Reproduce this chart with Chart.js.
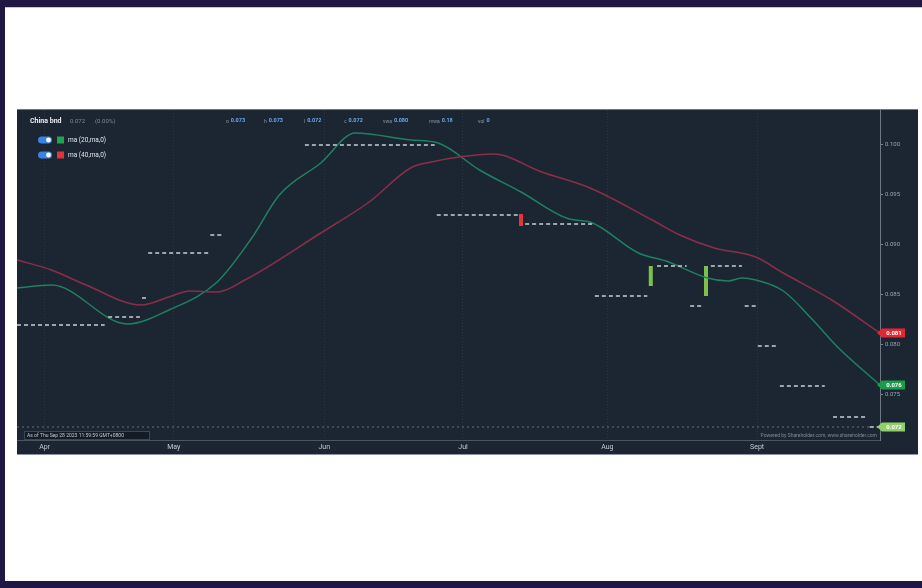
<!DOCTYPE html>
<html><head><meta charset="utf-8">
<script src="https://cdn.jsdelivr.net/npm/chart.js@4.4.0/dist/chart.umd.min.js"></script>
<style>
html,body{margin:0;padding:0;background:#fff;width:922px;height:588px;overflow:hidden;position:relative}
#top{position:absolute;left:0;top:0;width:922px;height:7px;background:#211743}
#topline{position:absolute;left:5px;top:7px;width:917px;height:1px;background:#c9c2dc}
#left{position:absolute;left:0;top:0;width:5px;height:588px;background:#211743}
#bottom{position:absolute;left:0;top:581px;width:922px;height:7px;background:#211743}
#panel{position:absolute;left:17px;top:110px;width:901px;height:345px;background:#1c2632}
#pt{position:absolute;left:17px;top:109px;width:901px;height:1px;background:#6f7985}
#pb{position:absolute;left:17px;top:454px;width:901px;height:1px;background:#8c96a1}
canvas{display:block}
</style></head>
<body>
<div id="top"></div><div id="topline"></div><div id="left"></div><div id="bottom"></div>
<div id="panel"><canvas id="c" width="901" height="345"></canvas></div>
<div id="pt"></div><div id="pb"></div>
<script>
// ---- data (x = trading-day index from start of window) ----
const monthLabels = ['Apr','May','Jun','Jul','Aug','Sept'];
const monthDays   = [4, 22.7, 44.5, 64.6, 85.5, 107.2];

const ma20Days   = [0,5,16,22,29,34,38,44,49,57,61,67,73,80,83,90,94,100,103,105,107,111,115,119,125];
const ma20Values = [0.0856,0.0859,0.0820,0.0834,0.0862,0.0906,0.0949,0.0981,0.1011,0.1004,0.1001,0.0974,0.0952,0.0925,0.0922,0.0891,0.0883,0.0866,0.0863,0.0866,0.0864,0.0853,0.0826,0.0796,0.0759];

const ma40Days   = [0,5,10,18,22,25,29,33,44,51,57,60,64,69,76,83,92,96,101,107,111,118,125];
const ma40Values = [0.0884,0.0874,0.0859,0.0839,0.0847,0.0853,0.0852,0.0864,0.0911,0.0942,0.0976,0.0982,0.0987,0.0990,0.0972,0.0956,0.0924,0.0909,0.0896,0.0887,0.0871,0.0844,0.0811];

const priceSegStart = [0,13.2,18.1,19.0,28.0,41.7,60.8,73.6,83.7,92.7,97.5,100.5,105.4,107.3,110.5,118.2,123.5];
const priceSegEnd   = [12.7,17.8,18.7,27.7,29.7,60.5,72.6,83.3,91.3,97.0,99.1,105.0,107.2,110.1,117.0,123.1,125];
const priceSegValue = [0.0819,0.0827,0.0846,0.0891,0.0909,0.0999,0.0929,0.0920,0.0848,0.0878,0.0838,0.0878,0.0838,0.0798,0.0758,0.0727,0.0717];

const candleDay   = [73.0, 91.8, 99.8];
const candleOpen  = [0.0930, 0.0858, 0.0848];
const candleClose = [0.0918, 0.0878, 0.0878];

const lastPrice = 0.0717;
const yTicks = [0.075,0.080,0.085,0.090,0.095,0.100];

const headerName = 'China bnd', headerLast = '0.072', headerChg = '(0.00%)';
const statPrefix = ['o','h','l','c','vwa','rvwa','vol'];
const statValue  = ['0.073','0.073','0.072','0.072','0.080','0.18','0'];
const legendNames = ['ma (20,ma,0)','ma (40,ma,0)'];
const asOfText = 'As of Thu Sep 28 2023 11:59:59 GMT+0800';
const poweredText = 'Powered by Shareholder.com, www.shareholder.com';

// ---- styles ----
const GREEN='#1f8062', RED='#8c2d4a', FONT='Roboto, "Liberation Sans", sans-serif';

const priceData=[];
priceSegStart.forEach((s,i)=>{
  priceData.push({x:s,y:priceSegValue[i]},{x:priceSegEnd[i],y:priceSegValue[i]},{x:priceSegEnd[i]+0.05,y:null});
});
const datasets=[
  {label:'lastline',data:[{x:0,y:lastPrice},{x:125,y:lastPrice}],borderColor:'rgba(190,198,206,0.45)',borderWidth:1,borderDash:[2,3],pointRadius:0},
  {label:'price',data:priceData,borderColor:'#c9ced4',borderWidth:1.6,borderDash:[4,3],pointRadius:0,spanGaps:false},
  {label:legendNames[1],data:ma40Days.map((d,i)=>({x:d,y:ma40Values[i]})),borderColor:RED,borderWidth:1.5,pointRadius:0,cubicInterpolationMode:'monotone'},
  {label:legendNames[0],data:ma20Days.map((d,i)=>({x:d,y:ma20Values[i]})),borderColor:GREEN,borderWidth:1.5,pointRadius:0,cubicInterpolationMode:'monotone'}
];
candleDay.forEach((d,i)=>{
  const up=candleClose[i]>candleOpen[i];
  datasets.push({label:'candle'+i,data:[{x:d,y:candleOpen[i]},{x:d,y:candleClose[i]}],borderColor:up?'#7cc24a':'#e2363c',borderWidth:4,borderCapStyle:'butt',pointRadius:0});
});

function badge(ctx,area,y,color,text){
  const r=area.right;
  ctx.fillStyle=color;
  ctx.beginPath();
  ctx.moveTo(r-3,y);ctx.lineTo(r+2,y-4.5);ctx.lineTo(r+25,y-4.5);ctx.lineTo(r+25,y+4.5);ctx.lineTo(r+2,y+4.5);ctx.closePath();ctx.fill();
  ctx.fillStyle='#ffffff';ctx.font='bold 6px '+FONT;ctx.textAlign='center';ctx.textBaseline='middle';
  ctx.fillText(text,r+14,y+0.5);
}

const overlay={id:'overlay',afterDraw(chart){
  const ctx=chart.ctx, a=chart.chartArea, ys=chart.scales.y;
  ctx.save();
  // header
  ctx.textBaseline='middle';ctx.textAlign='left';
  ctx.font='bold 7px '+FONT;ctx.fillStyle='#e8ecf0';ctx.fillText(headerName,13,11);
  ctx.font='6px '+FONT;ctx.fillStyle='#7d8894';ctx.fillText(headerLast,53,11);ctx.fillText(headerChg,78,11);
  const statX=[209,247,287,327,366,412,461];
  statPrefix.forEach((p,i)=>{
    ctx.font='5px '+FONT;ctx.fillStyle='#8d97a3';ctx.fillText(p,statX[i],12);
    const w=ctx.measureText(p).width;
    ctx.font='bold 5.5px '+FONT;ctx.fillStyle='#6aa6e8';ctx.fillText(statValue[i],statX[i]+w+2,11);
  });
  // legend
  [GREEN,'#e0343a'].forEach((c,i)=>{
    const y=30+i*15;
    ctx.fillStyle='#3b82e6';ctx.beginPath();ctx.arc(24.5,y,3.5,Math.PI/2,Math.PI*1.5);ctx.arc(31.5,y,3.5,-Math.PI/2,Math.PI/2);ctx.closePath();ctx.fill();
    ctx.fillStyle='#ffffff';ctx.beginPath();ctx.arc(31.5,y,2.4,0,Math.PI*2);ctx.fill();
    ctx.fillStyle=i===0?'#22a44c':'#e0343a';ctx.fillRect(40,y-3.5,7,7);
    ctx.font='6.5px '+FONT;ctx.fillStyle='#dfe4ea';ctx.textAlign='left';ctx.fillText(legendNames[i],51,y);
  });
  // as-of box
  ctx.fillStyle='#131b24';ctx.fillRect(7,321,125,8);
  ctx.strokeStyle='#3d4753';ctx.lineWidth=1;ctx.strokeRect(7.5,321.5,125,8);
  ctx.font='5px '+FONT;ctx.fillStyle='#c3c9d0';ctx.fillText(asOfText,10,325.5);
  // powered
  ctx.textAlign='right';ctx.fillStyle='#7f8a96';ctx.fillText(poweredText,a.right-3,326);
  // badges
  badge(ctx,a,ys.getPixelForValue(ma40Values[ma40Values.length-1]),'#e3262f',ma40Values[ma40Values.length-1].toFixed(3));
  badge(ctx,a,ys.getPixelForValue(ma20Values[ma20Values.length-1]),'#1a9c4a',ma20Values[ma20Values.length-1].toFixed(3));
  badge(ctx,a,ys.getPixelForValue(lastPrice),'#8fcf68',lastPrice.toFixed(3));
  ctx.restore();
}};

new Chart(document.getElementById('c'),{
  type:'line',
  data:{datasets},
  plugins:[overlay],
  options:{
    responsive:false,animation:false,devicePixelRatio:1,
    layout:{padding:0},
    plugins:{legend:{display:false},tooltip:{enabled:false}},
    elements:{line:{tension:0}},
    scales:{
      x:{type:'linear',min:0,max:125,offset:false,
        afterFit(s){s.height=15;s.paddingLeft=0;s.paddingRight=0;},
        afterBuildTicks(s){s.ticks=monthDays.map(v=>({value:v}));},
        ticks:{callback:(v,i)=>monthLabels[i],color:'#c2c8cf',font:{size:7,family:FONT},padding:3,maxRotation:0,autoSkip:false},
        grid:{color:'rgba(150,160,172,0.14)',drawTicks:false,lineWidth:1},
        border:{display:true,color:'#4b5663',dash:[1,2]}
      },
      y:{type:'linear',position:'right',min:0.0704,max:0.1034,
        afterFit(s){s.width=38;s.paddingTop=0;s.paddingBottom=0;},
        afterBuildTicks(s){s.ticks=yTicks.map(v=>({value:v}));},
        ticks:{callback:v=>v.toFixed(3),color:'#9aa3ad',font:{size:6,family:FONT},padding:2},
        grid:{drawOnChartArea:false,drawTicks:true,tickLength:3,color:'#7b8591'},
        border:{display:true,color:'#6d7884'}
      }
    }
  }
});
</script>
</body></html>
